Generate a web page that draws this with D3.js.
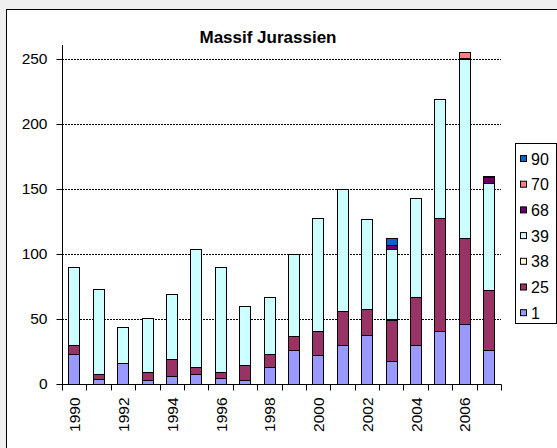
<!DOCTYPE html>
<html>
<head>
<meta charset="utf-8">
<script src="https://cdn.jsdelivr.net/npm/d3@7"></script>
<style>
  html, body { margin: 0; padding: 0; background: #f0f0f0; }
  svg { display: block; font-family: "Liberation Sans", Arial, sans-serif; }
</style>
</head>
<body>
<svg id="chart" width="557" height="448"></svg>
<script>
// Years on the category axis
const years = [1990, 1991, 1992, 1993, 1994, 1995, 1996, 1997, 1998,
               1999, 2000, 2001, 2002, 2003, 2004, 2005, 2006, 2007];

// Series values, stacked bottom to top in this order
const s1  = [23, 4, 16, 3, 6, 8, 5, 3, 13, 26, 22, 30, 38, 18, 30, 41, 46, 26];
const s25 = [7, 4, 0, 6, 13, 5, 4, 12, 10, 11, 19, 26, 20, 31, 37, 87, 66, 46];
const s38 = [0, 0, 0, 0, 0, 0, 0, 0, 0, 0, 0, 0, 0, 1, 0, 0, 0, 0];
const s39 = [60, 65, 28, 42, 50, 91, 81, 45, 44, 63, 87, 94, 69, 54, 76, 91, 138, 83];
const s68 = [0, 0, 0, 0, 0, 0, 0, 0, 0, 0, 0, 0, 0, 3, 0, 0, 1, 4];
const s70 = [0, 0, 0, 0, 0, 0, 0, 0, 0, 0, 0, 0, 0, 0, 0, 0, 4, 1];
const s90 = [0, 0, 0, 0, 0, 0, 0, 0, 0, 0, 0, 0, 0, 5, 0, 0, 0, 0];

const seriesNames = ["1", "25", "38", "39", "68", "70", "90"];
const seriesValues = [s1, s25, s38, s39, s68, s70, s90];
const seriesColors = ["#9999FF", "#993366", "#FFFFCC", "#CCFFFF", "#660066", "#FF8080", "#0066CC"];

const yTicks = [0, 50, 100, 150, 200, 250];
const xTickLabels = years.filter((y, i) => i % 2 === 0);

const svg = d3.select("#chart");

// Chart area frame
svg.append("rect")
  .attr("x", 6.5).attr("y", 9.5)
  .attr("width", 600).attr("height", 500)
  .attr("fill", "#ffffff").attr("stroke", "#000").attr("stroke-width", 1);

const plot = { left: 62, right: 501, top: 59, bottom: 384 };

const x = d3.scaleBand()
  .domain(years)
  .range([plot.left, plot.right])
  .paddingInner(0.53)
  .paddingOuter(0.265);

const y = d3.scaleLinear()
  .domain([0, 250])
  .range([plot.bottom, plot.top]);

// Table for the stack layout
const table = years.map((yr, i) => {
  const row = { year: yr };
  seriesNames.forEach((n, k) => { row[n] = seriesValues[k][i]; });
  return row;
});
const stacked = d3.stack().keys(seriesNames)(table);

// Gridlines
svg.append("g")
  .selectAll("line")
  .data(yTicks.filter(t => t > 0))
  .join("line")
  .attr("x1", plot.left).attr("x2", plot.right)
  .attr("y1", d => Math.round(y(d)) + 0.5).attr("y2", d => Math.round(y(d)) + 0.5)
  .attr("stroke", "#000").attr("stroke-width", 1)
  .attr("stroke-dasharray", "2,1");

// Stacked bars
const layers = svg.append("g")
  .selectAll("g")
  .data(stacked)
  .join("g")
  .attr("fill", (d, i) => seriesColors[i]);

layers.selectAll("rect")
  .data(d => d.filter(p => p[1] - p[0] > 0))
  .join("rect")
  .attr("x", d => Math.round(x(d.data.year)) + 0.5)
  .attr("width", Math.round(x.bandwidth()))
  .attr("y", d => Math.round(y(d[1])) + 0.5)
  .attr("height", d => Math.round(y(d[0])) - Math.round(y(d[1])))
  .attr("stroke", "#000").attr("stroke-width", 1);

// Y axis
const yAxis = svg.append("g")
  .attr("transform", `translate(${plot.left + 0.5},0)`)
  .call(d3.axisLeft(y).tickValues(yTicks).tickSize(6).tickPadding(9).tickFormat(d3.format("d")));
yAxis.select(".domain").attr("stroke", "#000").attr("d", `M0,${plot.top - 14}V${plot.bottom}`);
yAxis.selectAll(".tick line").attr("stroke", "#000");
yAxis.selectAll("text").attr("font-size", 15.5).attr("fill", "#000");

// X axis with ticks on category boundaries
const xAxis = svg.append("g")
  .attr("transform", `translate(0,${plot.bottom + 0.5})`);
xAxis.append("line")
  .attr("x1", plot.left).attr("x2", plot.right + 0.5)
  .attr("stroke", "#000");
const step = x.step();
const boundaries = d3.range(years.length + 1).map(i => plot.left + i * step);
xAxis.selectAll("line.tk")
  .data(boundaries)
  .join("line")
  .attr("class", "tk")
  .attr("x1", d => Math.round(d) + 0.5).attr("x2", d => Math.round(d) + 0.5)
  .attr("y1", 0).attr("y2", 6)
  .attr("stroke", "#000");
xAxis.selectAll("text")
  .data(xTickLabels)
  .join("text")
  .attr("transform", d => `translate(${x(d) + x.bandwidth() / 2 + 6},13) rotate(-90)`)
  .attr("text-anchor", "end")
  .attr("font-size", 15.5)
  .attr("fill", "#000")
  .text(d => d);

// Title
svg.append("text")
  .attr("x", 268).attr("y", 43)
  .attr("text-anchor", "middle")
  .attr("font-size", 17).attr("font-weight", "bold")
  .text("Massif Jurassien");

// Legend, listed top to bottom in reverse stack order
const legend = svg.append("g");
legend.append("rect")
  .attr("x", 515.5).attr("y", 143.5)
  .attr("width", 41).attr("height", 180)
  .attr("fill", "#fff").attr("stroke", "#000");
const legendItems = seriesNames.map((n, k) => ({ name: n, color: seriesColors[k] })).reverse();
const li = legend.selectAll("g.item")
  .data(legendItems)
  .join("g")
  .attr("class", "item")
  .attr("transform", (d, i) => `translate(0,${159 + i * 25.7})`);
li.append("rect")
  .attr("x", 520.5).attr("y", -3.5)
  .attr("width", 6).attr("height", 6)
  .attr("fill", d => d.color).attr("stroke", "#000");
li.append("text")
  .attr("x", 531).attr("y", 5.5)
  .attr("font-size", 16)
  .text(d => d.name);
</script>
</body>
</html>
